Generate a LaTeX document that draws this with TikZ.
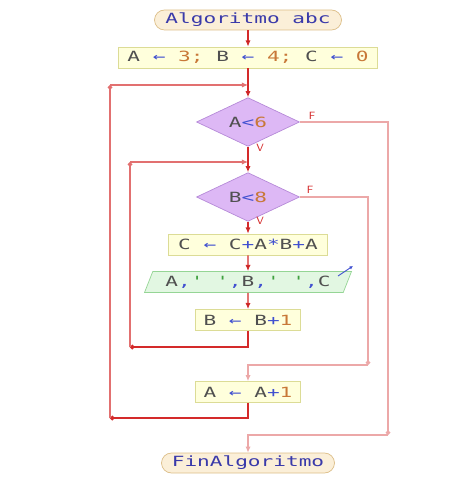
\documentclass[tikz,border=0pt]{standalone}
\usepackage{fontspec}
\usetikzlibrary{shapes.geometric,arrows.meta}
\newfontfamily\codefont[FakeStretch=1.5,Ligatures=TeXOff]{DejaVu Sans Mono}
\definecolor{termfill}{HTML}{FBEFD8}
\definecolor{termdraw}{HTML}{DCBE88}
\definecolor{termblue}{HTML}{3A3AAA}
\definecolor{procfill}{HTML}{FFFFDC}
\definecolor{procdraw}{HTML}{DCDC96}
\definecolor{decfill}{HTML}{DDB8F5}
\definecolor{decdraw}{HTML}{B68AD8}
\definecolor{iofill}{HTML}{E2F7E2}
\definecolor{iodraw}{HTML}{95D595}
\definecolor{flowred}{HTML}{D42A2A}
\definecolor{backred}{HTML}{E27070}
\definecolor{falsered}{HTML}{ECA8A8}
\definecolor{vargray}{HTML}{505050}
\definecolor{opblue}{HTML}{4050D0}
\definecolor{numcol}{HTML}{C87838}
\definecolor{qtgreen}{HTML}{40A040}
\newcommand{\asg}{\textcolor{opblue}{←}}
\newcommand{\op}[1]{\textcolor{opblue}{#1}}
\newcommand{\cnum}[1]{\textcolor{numcol}{#1}}
\newcommand{\qt}{\textcolor{qtgreen}{'}}
\begin{document}
\begin{tikzpicture}
      \tikzstyle{every node} = [font=\codefont\fontsize{8}{9}\selectfont, text=vargray, inner sep=0pt]
      \tikzstyle{term} = [draw=termdraw, fill=termfill, rounded corners=0.2cm, minimum height=0.4cm, text=termblue]
      \tikzstyle{proc} = [draw=procdraw, fill=procfill, minimum height=0.42cm]
      \tikzstyle{decide} = [diamond, draw=decdraw, fill=decfill, minimum width=2.06cm, minimum height=0.8cm]
      \tikzstyle{io} = [trapezium, trapezium left angle=60, trapezium right angle=120, trapezium stretches=true, draw=iodraw, fill=iofill, minimum width=4.14cm, minimum height=0.42cm]
      \tikzstyle{flow} = [draw=flowred, line width=0.7pt, -{Latex[length=3.5pt,width=3pt]}]
      \tikzstyle{back} = [draw=backred, line width=0.6pt]
      \tikzstyle{falseline} = [draw=falsered, line width=0.6pt]
      \tikzstyle{dotend} = [-{Circle[length=2.6pt]}]
      \tikzstyle{tipend} = [-{Latex[length=3.5pt,width=3pt]}]
      \tikzstyle{lab} = [font=\sffamily\fontsize{6}{6}\selectfont, text=flowred]

      \useasboundingbox (0,0) rectangle (9.5,-10);

      \node[term, minimum width=3.74cm](start) at (4.96,-0.40){Algoritmo abc};
      \node[proc, minimum width=5.18cm, below of=start, node distance=0.75cm](init){A \asg{} \cnum{3;} B \asg{} \cnum{4;} C \asg{} \cnum{0}};
      \node[decide, below of=init, node distance=1.29cm](condA){A\op{<}\cnum{6}};
      \node[decide, below of=condA, node distance=1.5cm](condB){B\op{<}\cnum{8}};
      \node[proc, minimum width=3.18cm, below of=condB, node distance=0.95cm](calc){C \asg{} C\op{+}A\op{*}B\op{+}A};
      \node[io, below of=calc, node distance=0.75cm](out){A\op{,}\qt{} \qt\op{,}B\op{,}\qt{} \qt\op{,}C};
      \node[proc, minimum width=2.1cm, below of=out, node distance=0.76cm](incB){B \asg{} B\op{+}\cnum{1}};
      \node[proc, minimum width=2.1cm, below of=incB, node distance=1.44cm](incA){A \asg{} A\op{+}\cnum{1}};
      \node[term, minimum width=3.46cm, below of=incA, node distance=1.42cm](finish){FinAlgoritmo};

      \coordinate (loopAtop) at (2.20,-1.70);
      \coordinate (loopAbot) at (2.20,-8.36);
      \coordinate (loopBtop) at (2.60,-3.24);
      \coordinate (loopBbot) at (2.60,-6.94);
      \coordinate (falseBbot) at (7.36,-7.30);
      \coordinate (falseAbot) at (7.76,-8.70);

      \path[flow] (start) edge (init);
      \path[flow] (init) edge (condA);
      \path[flow] (condA) edge (condB);
      \path[flow] (condB) edge (calc);
      \path[flow] (calc) edge (out);
      \path[flow] (out) edge (incB);

      \node[lab] (vA) at (5.20,-2.96){V};
      \node[lab] (vB) at (5.20,-4.42){V};
      \node[lab] (fA) at (6.24,-2.32){F};
      \node[lab] (fB) at (6.20,-3.80){F};

      % inner loop back to B<8
      \draw[flow, dotend] (incB) |- (loopBbot);
      \draw[back, dotend] (loopBbot) -- (loopBtop);
      \draw[back, tipend] (loopBtop) -- (condA |- loopBtop);

      % leave inner loop
      \draw[falseline, dotend] (condB.east) -| (falseBbot);
      \draw[falseline, tipend] (falseBbot) -| (incA);

      % outer loop back to A<6
      \draw[flow, dotend] (incA) |- (loopAbot);
      \draw[back, dotend] (loopAbot) -- (loopAtop);
      \draw[back, tipend] (loopAtop) -- (init |- loopAtop);

      % leave outer loop
      \draw[falseline, dotend] (condA.east) -| (falseAbot);
      \draw[falseline, tipend] (falseAbot) -| (finish);

      \draw[opblue, line width=0.5pt, -{Latex[length=2pt,width=2pt]}] ([shift={(1.80,0.12)}]out.center) -- ++(0.3,0.2);
\end{tikzpicture}
\end{document}
